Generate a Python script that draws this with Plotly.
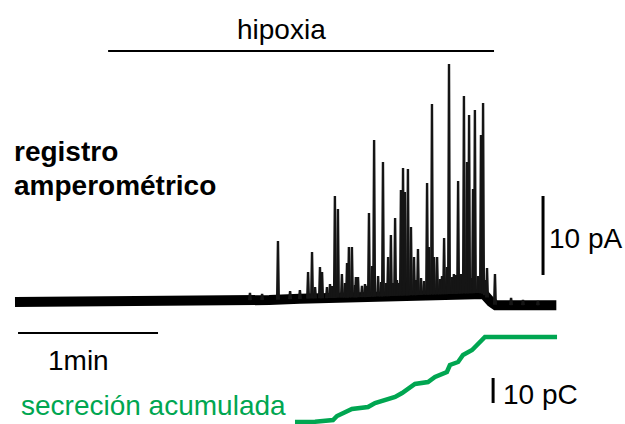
import numpy as np
import plotly.graph_objects as go

# ---- data (time in s, current in pA, charge in pC) ----
baseline_t = [0, 19, 36, 58, 79, 96, 109, 122, 135, 148, 161, 174, 186, 199, 201, 204, 206, 216, 232]
baseline_i = [0, 0, 0, 0, 0.1, 0.25, 0.25, 0.4, 0.5, 0.6, 0.75, 0.9, 1.0, 1.15, 1.0, 0, -0.4, -0.4, -0.4]

spike_t = [112.7, 125.6, 127.3, 130.7, 131.6, 135.9, 137.1, 138.4, 140.1, 142.3, 143.1, 144.4,
           146.1, 147.0, 150.9, 151.7, 153.0, 153.9, 155.6, 157.7, 159.9, 161.1, 162.9, 164.1,
           165.4, 166.3, 167.1, 168.4, 169.7, 171.0, 172.7, 176.6, 177.4, 178.7, 179.6, 180.9,
           183.9, 185.1, 186.0, 188.1, 189.9, 192.4, 193.7, 194.6, 196.3, 197.1, 199.7, 200.6,
           202.3, 205.7, 212.6]
spike_peak = [7.72, 3.80, 6.33, 4.43, 3.80, 2.03, 13.42, 11.77, 3.54, 4.94, 6.96, 6.96,
              3.16, 3.16, 2.03, 11.27, 4.56, 20.51, 3.29, 17.72, 5.70, 8.48, 10.63, 2.41,
              14.18, 16.96, 13.92, 16.84, 9.49, 5.70, 6.71, 15.06, 6.96, 25.06, 5.70, 5.70,
              8.10, 4.43, 30.13, 3.54, 15.32, 26.08, 17.72, 23.67, 14.30, 24.30, 21.14, 25.19,
              4.30, 3.54, 0.51]

minor_t = [100.7, 105.9, 117.9, 122.1, 128.6, 133.7, 135.0, 141.4, 145.7, 148.7, 150.0, 156.9,
           159.0, 162.0, 163.7, 168.0, 171.9, 174.0, 175.3, 182.1, 183.0, 187.3, 189.0, 191.1,
           195.4, 198.4, 201.4, 217.7, 224.1]
minor_peak = [1.14, 1.01, 1.39, 1.52, 1.90, 1.90, 2.28, 2.41, 2.15, 2.03, 2.28, 2.53,
              2.41, 2.41, 2.78, 2.53, 2.78, 3.04, 2.66, 2.91, 3.29, 3.16, 3.42, 3.54,
              3.04, 3.29, 2.78, 0.25, 0.13]

charge_t = [120.0, 128.6, 136.3, 138.0, 144.4, 151.3, 154.3, 162.9, 165.9, 171.4, 177.0,
            180.0, 185.1, 186.4, 189.9, 192.0, 195.9, 201.4, 232.3]
charge_q = [0, 0.1, 0.8, 2.4, 5.2, 6.0, 7.6, 10.0, 11.6, 15.2, 16.0,
            18.0, 20.0, 22.8, 24.0, 26.8, 28.8, 34.0, 34.0]

hypoxia_on, hypoxia_off = 39.9, 205.3

W, H = 625, 424
GREEN = "#00a651"
FONT = "Liberation Sans, Arial, sans-serif"

# ---- build spike path ----
events = sorted(zip(spike_t + minor_t, spike_peak + minor_peak))
px, py = [], []
bt = np.array(baseline_t, float)
bi = np.array(baseline_i, float)
for t, p in events:
    b = float(np.interp(t, bt, bi))
    px += [t - 0.35, t, t + 0.35, None]
    py += [b, p, b, None]

fig = go.Figure()
fig.add_trace(go.Scatter(x=baseline_t, y=baseline_i, mode="lines",
                         line=dict(color="black", width=10), hoverinfo="skip"))
fig.add_trace(go.Scatter(x=px, y=py, mode="lines",
                         line=dict(color="#151515", width=2.4), hoverinfo="skip"))
fig.add_trace(go.Scatter(x=charge_t, y=charge_q, mode="lines", yaxis="y2",
                         line=dict(color=GREEN, width=4.5), hoverinfo="skip"))

# axes: px per s = 140/60, px per pA = 7.9, px per pC = 2.5
sx = 140 / 60
x0 = -15 / sx
fig.update_layout(
    width=W, height=H, margin=dict(l=0, r=0, t=0, b=0),
    paper_bgcolor="white", plot_bgcolor="white", showlegend=False,
    xaxis=dict(range=[x0, x0 + W / sx], visible=False, fixedrange=True),
    yaxis=dict(range=[-(H - 302) / 7.9, 302 / 7.9], visible=False, fixedrange=True),
    yaxis2=dict(range=[-(H - 422) / 2.5, 422 / 2.5], visible=False, overlaying="y", fixedrange=True),
)

# hypoxia bar
fig.add_shape(type="line", x0=hypoxia_on, x1=hypoxia_off, yref="paper",
              y0=1 - 51 / H, y1=1 - 51 / H, line=dict(color="black", width=2))
# 1 min scale bar
fig.add_shape(type="line", x0=1.3, x1=61.3, y0=-3.92, y1=-3.92, line=dict(color="black", width=2))
# 10 pA scale bar
fig.add_shape(type="line", x0=226.3, x1=226.3, y0=3.42, y1=13.42, line=dict(color="black", width=3))
# 10 pC scale bar
fig.add_shape(type="line", x0=204.9, x1=204.9, yref="y2", y0=7.6, y1=17.6, line=dict(color="black", width=3))

def txt(s, x, y, size=28, color="black", bold=False, anchor="left"):
    fig.add_annotation(text=f"<b>{s}</b>" if bold else s, xref="paper", yref="paper",
                       x=x / W, y=1 - y / H, xanchor=anchor, yanchor="middle",
                       showarrow=False, font=dict(family=FONT, size=size, color=color))

txt("hipoxia", 281, 29, anchor="center")
txt("registro", 12, 151, bold=True)
txt("amperométrico", 12, 186, bold=True)
txt("10 pA", 547, 238)
txt("1min", 46, 360)
txt("secreción acumulada", 19, 405, color=GREEN)
txt("10 pC", 501, 394)

fig.write_html("out.html", config={"staticPlot": True},
               post_script="document.body.style.margin='0px';document.body.style.overflow='hidden';")
